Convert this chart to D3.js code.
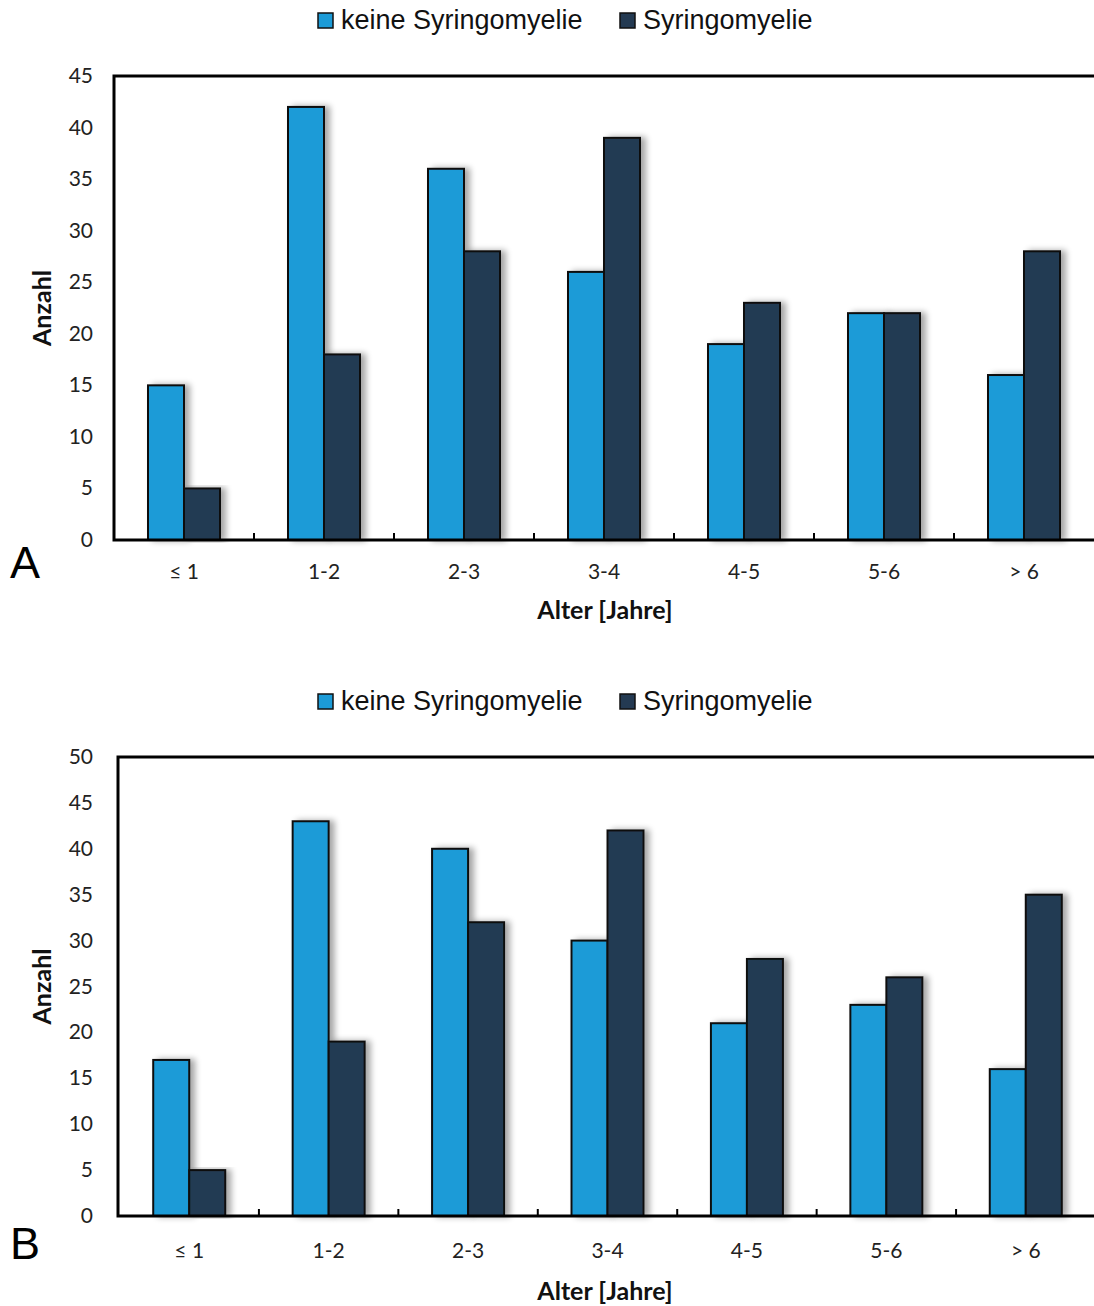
<!DOCTYPE html>
<html><head><meta charset="utf-8">
<script src="https://cdn.jsdelivr.net/npm/d3@7"></script>
<style>body{margin:0;background:#fff}svg{display:block}</style>
</head><body>
<script>
const categories = ["≤ 1","1-2","2-3","3-4","4-5","5-6","> 6"];
const seriesNames = ["keine Syringomyelie","Syringomyelie"];
const colors = ["#1c9bd7","#243a52"];
const keineA = [15,42,36,26,19,22,16];
const syrA = [5,18,28,39,23,22,28];
const keineB = [17,43,40,30,21,23,16];
const syrB = [5,19,32,42,28,26,35];
const ticksA = [0,5,10,15,20,25,30,35,40,45];
const ticksB = [0,5,10,15,20,25,30,35,40,45,50];

const W=1094,H=1306;
const svg=d3.select("body").append("svg").attr("width",W).attr("height",H);
const defs=svg.append("defs");
const f=defs.append("filter").attr("id","sh").attr("x","-20%").attr("y","-5%").attr("width","160%").attr("height","110%");
f.append("feGaussianBlur").attr("in","SourceAlpha").attr("stdDeviation",3).attr("result","b");
f.append("feOffset").attr("in","b").attr("dx",5).attr("dy",0).attr("result","o");
f.append("feComponentTransfer").attr("in","o").attr("result","oc").append("feFuncA").attr("type","linear").attr("slope",0.35);
const m=f.append("feMerge");m.append("feMergeNode").attr("in","oc");m.append("feMergeNode").attr("in","SourceGraphic");

function panel(cfg){
  const g=svg.append("g");
  const x=d3.scaleBand().domain(categories).range([cfg.left,W]);
  const y=d3.scaleLinear().domain([0,cfg.max]).range([cfg.bottom,cfg.top]);
  const barW=36;
  // legend
  const lg=g.append("g").attr("transform",`translate(0,${cfg.legendY})`);
  const lx=[318,620];
  seriesNames.forEach((n,i)=>{
    lg.append("rect").attr("x",lx[i]).attr("y",-7).attr("width",15).attr("height",15).attr("fill",colors[i]).attr("stroke","#111").attr("stroke-width",1.5);
    lg.append("text").attr("x",lx[i]+23).attr("y",9).attr("font-family","Liberation Sans, Arial").attr("font-size",27).attr("fill","#111").text(n);
  });
  // y ticks
  cfg.ticks.forEach(t=>{
    g.append("text").attr("x",93).attr("y",y(t)+7).attr("text-anchor","end").attr("font-family","Lato, sans-serif").attr("font-size",21).attr("fill","#222").text(t);
  });
  // bars
  const data=categories.map((c,i)=>({c,v:[cfg.s1[i],cfg.s2[i]]}));
  const bg=g.append("g");
  data.forEach(d=>{
    const cx=x(d.c)+x.bandwidth()/2+cfg.shift;
    d.v.forEach((v,k)=>{
      bg.append("rect").attr("x",cx-barW+k*barW).attr("y",y(v)).attr("width",barW).attr("height",y(0)-y(v))
        .attr("fill",colors[k]).attr("stroke","#111").attr("stroke-width",2).attr("filter","url(#sh)");
    });
  });
  // frame
  g.append("path").attr("d",`M${W},${cfg.top}H${cfg.left}V${cfg.bottom}H${W}`).attr("fill","none").attr("stroke","#000").attr("stroke-width",3);
  // x ticks at boundaries
  categories.forEach((c,i)=>{ if(i>0){ const tx=x(c)+cfg.shift; g.append("line").attr("x1",tx).attr("x2",tx).attr("y1",cfg.bottom).attr("y2",cfg.bottom-7).attr("stroke","#000").attr("stroke-width",2);} });
  categories.forEach(c=>{
    g.append("text").attr("x",x(c)+x.bandwidth()/2+cfg.shift).attr("y",cfg.bottom+cfg.tickDy).attr("text-anchor","middle").attr("font-family","Lato, sans-serif").attr("font-size",21).attr("fill","#222").text(c);
  });
  g.append("text").attr("x",605).attr("y",cfg.bottom+cfg.titleDy).attr("text-anchor","middle").attr("font-family","Lato, sans-serif").attr("font-weight","bold").attr("font-size",25).attr("fill","#111").text("Alter [Jahre]");
  const my=(cfg.top+cfg.bottom)/2;
  g.append("text").attr("transform",`translate(51,${my}) rotate(-90)`).attr("text-anchor","middle").attr("font-family","Lato, sans-serif").attr("font-weight","bold").attr("font-size",25).attr("fill","#111").text("Anzahl");
  g.append("text").attr("x",10).attr("y",cfg.bottom+cfg.letterDy).attr("font-family","Liberation Sans, Arial").attr("font-size",45).attr("fill","#000").text(cfg.letter);
}
panel({left:114,top:76,bottom:540,max:45,ticks:ticksA,s1:keineA,s2:syrA,legendY:20,letter:"A",letterDy:38,shift:0,tickDy:39,titleDy:79});
panel({left:118,top:757,bottom:1216,max:50,ticks:ticksB,s1:keineB,s2:syrB,legendY:701,letter:"B",letterDy:43,shift:1.5,tickDy:42,titleDy:84});
</script>
</body></html>
